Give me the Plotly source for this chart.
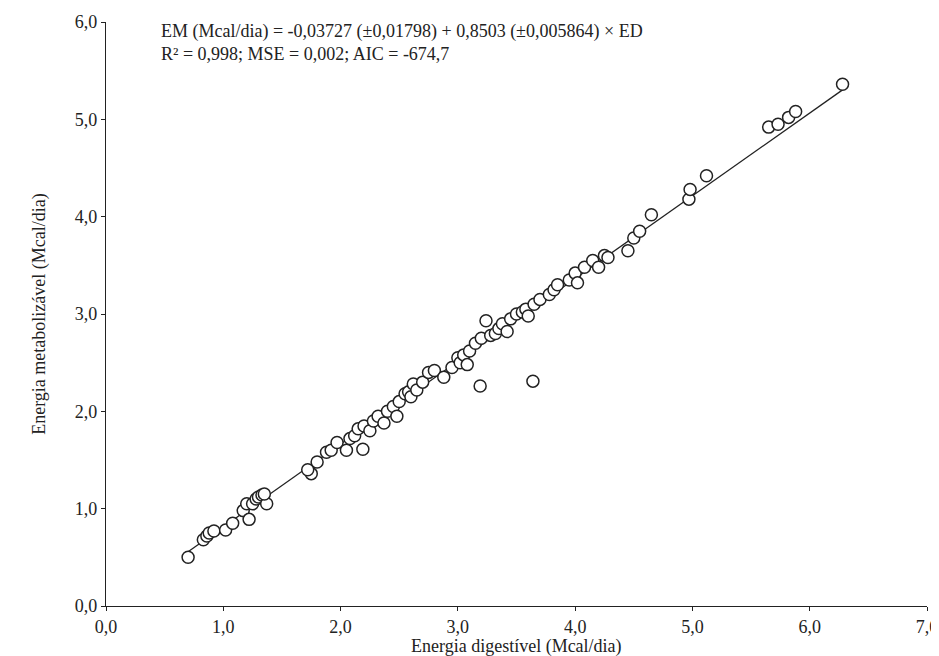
import numpy as np
import plotly.graph_objects as go

ed = [0.70, 0.83, 0.86, 0.88, 0.92, 1.02, 1.08, 1.17, 1.20, 1.22, 1.25, 1.28, 1.30, 1.33, 1.37, 1.35,
      1.75, 1.72, 1.80, 1.88, 1.92, 1.97, 2.05, 2.08, 2.12, 2.15, 2.19, 2.20, 2.25, 2.28, 2.32, 2.37,
      2.40, 2.45, 2.50, 2.48, 2.55, 2.58, 2.60, 2.62, 2.65, 2.70, 2.75, 2.80, 2.88, 2.95, 3.00, 3.02,
      3.05, 3.08, 3.10, 3.15, 3.19, 3.20, 3.24, 3.28, 3.32, 3.35, 3.38, 3.42, 3.45, 3.50, 3.55, 3.58,
      3.60, 3.64, 3.65, 3.70, 3.78, 3.82, 3.85, 3.95, 4.00, 4.02, 4.08, 4.15, 4.20, 4.25, 4.28, 4.45,
      4.50, 4.55, 4.65, 4.97, 4.98, 5.12, 5.65, 5.73, 5.82, 5.88, 6.28]
em = [0.50, 0.68, 0.72, 0.75, 0.77, 0.78, 0.85, 0.98, 1.05, 0.89, 1.05, 1.10, 1.12, 1.14, 1.05, 1.15,
      1.36, 1.40, 1.48, 1.58, 1.60, 1.68, 1.60, 1.72, 1.75, 1.82, 1.61, 1.85, 1.80, 1.90, 1.95, 1.88,
      2.00, 2.05, 2.10, 1.95, 2.18, 2.20, 2.15, 2.28, 2.22, 2.30, 2.40, 2.42, 2.35, 2.45, 2.55, 2.50,
      2.58, 2.48, 2.62, 2.70, 2.26, 2.75, 2.93, 2.78, 2.80, 2.85, 2.90, 2.82, 2.95, 3.00, 3.02, 3.05,
      2.98, 2.31, 3.10, 3.15, 3.20, 3.25, 3.30, 3.35, 3.42, 3.32, 3.48, 3.55, 3.48, 3.60, 3.58, 3.65,
      3.78, 3.85, 4.02, 4.18, 4.28, 4.42, 4.92, 4.95, 5.02, 5.08, 5.36]

intercept = -0.03727
slope = 0.8503
line_x = np.array([min(ed), max(ed)])
line_y = intercept + slope * line_x

font = "Liberation Serif"
tfont = dict(size=18, color="#222", family=font)

fig = go.Figure()
fig.add_trace(go.Scatter(x=line_x, y=line_y, mode="lines",
                         line=dict(color="#222", width=1.3), showlegend=False))
fig.add_trace(go.Scatter(x=ed, y=em, mode="markers", showlegend=False,
                         marker=dict(size=12, color="white", line=dict(color="#222", width=1.5))))

fig.add_annotation(x=0.065, y=1.005, xref="paper", yref="paper", xanchor="left", yanchor="top",
                   showarrow=False, align="left",
                   text="EM (Mcal/dia) = -0,03727 (±0,01798) + 0,8503 (±0,005864) × ED<br>"
                        "R² = 0,998; MSE = 0,002; AIC = -674,7",
                   font=tfont)
# x title placed as annotation so it sits close under the tick labels
fig.add_annotation(x=0.5, y=-0.07, xref="paper", yref="paper", xanchor="center", yanchor="middle",
                   showarrow=False, text="Energia digestível (Mcal/dia)", font=tfont)

axis = dict(showline=True, linecolor="#222", linewidth=1.2, ticks="outside", ticklen=4,
            tickcolor="#222", showgrid=False, zeroline=False, tickformat=".1f", automargin=False,
            tickfont=tfont)
fig.update_xaxes(axis, range=[0, 7], dtick=1)
fig.update_yaxes(axis, range=[0, 6], dtick=1,
                 title=dict(text="Energia metabolizável (Mcal/dia)", standoff=24, font=tfont))
fig.update_layout(width=931, height=648, plot_bgcolor="white", paper_bgcolor="white",
                  separators=",.", margin=dict(l=98, r=12, t=14, b=50))
fig.write_html("out.html")
